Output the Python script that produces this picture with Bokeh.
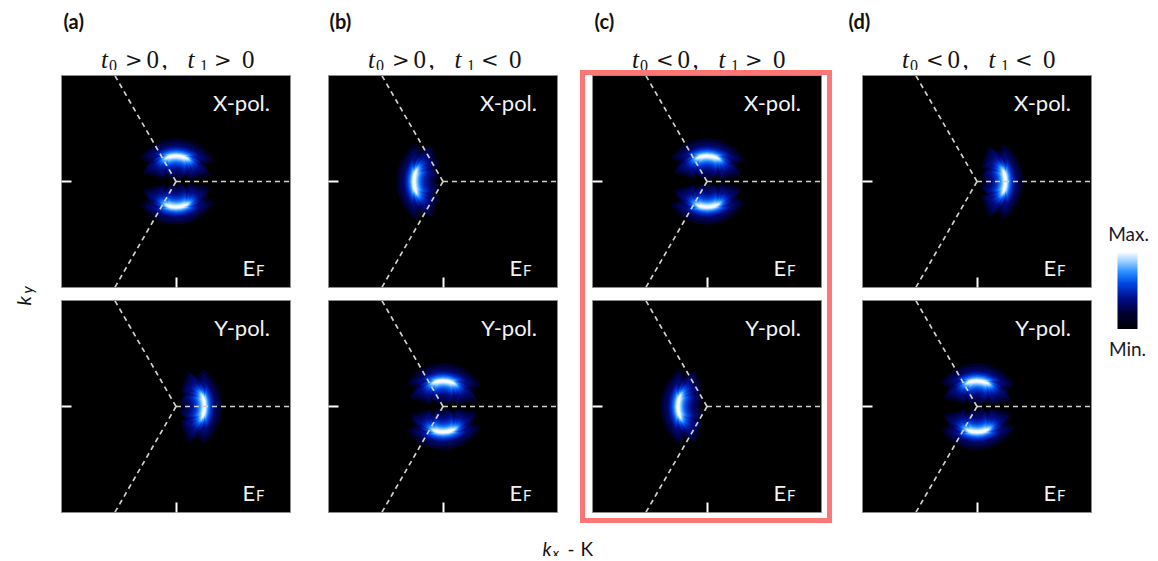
import numpy as np
from bokeh.plotting import figure
from bokeh.layouts import row, column
from bokeh.models import Range1d, FixedTicker, LinearColorMapper
from bokeh.embed import file_html
from bokeh.resources import INLINE
from bokeh.core.properties import value

# ------------------------------------------------------------------ data
panel_letters = ["(a)", "(b)", "(c)", "(d)"]
t0_relation = [">", ">", "<", "<"]
t1_relation = [">", "<", ">", "<"]
x_pol_pattern = ["pair", "left", "pair", "right"]
y_pol_pattern = ["right", "pair", "left", "pair"]
pol_labels = ["X-pol.", "Y-pol."]

# intensity arcs around K: centre angle (deg), half angular span (deg), radius
pair_centers = [88, 272]
pair_half_span = [56, 56]
pair_radius = 0.255
left_centers = [180]
left_half_span = [52]
left_radius = 0.29
right_centers = [0]
right_half_span = [52]
right_radius = 0.285
k_point = (0.0, 0.0)
bz_edge_angles = [0, 120, 240]   # directions of the BZ edges leaving K (deg)
kx_lim = 1.145
ky_lim = 1.06

patterns = {
    "pair": (pair_centers, pair_half_span, pair_radius),
    "left": (left_centers, left_half_span, left_radius),
    "right": (right_centers, right_half_span, right_radius),
}

# colour scale Min. -> Max.
cmap_pos = [0.0, 0.2, 0.4, 0.6, 0.75, 0.88, 1.0]
cmap_hex = ["#000008", "#00002e", "#000c86", "#0048e6", "#2a90ff", "#98ceff", "#f6fbff"]


def make_palette(n):
    pos = np.array(cmap_pos)
    rgb = np.array([[int(h[i:i + 2], 16) for i in (1, 3, 5)] for h in cmap_hex], float)
    out = []
    for t in np.linspace(0, 1, n):
        c = [np.interp(t, pos, rgb[:, j]) for j in range(3)]
        out.append("#%02x%02x%02x" % tuple(int(round(v)) for v in c))
    return out


PALETTE = make_palette(256)


def cmap(level):
    return PALETTE[int(round(min(max(level, 0), 1) * 255))]


# glow styling of the smooth spectral-weight arcs
haze_levels = [0.20, 0.26, 0.32, 0.37]
haze_halfwidth = [0.20, 0.17, 0.145, 0.125]
haze_span_frac = [1.40, 1.28, 1.18, 1.09]
haze_taper = [(1.0, 0.75), (0.55, 1.0)]
n_layers = 18
layer_t = np.linspace(0, 1, n_layers)
layer_level = 0.42 + 0.58 * layer_t ** 1.4
layer_span_frac = 1.0 - 0.55 * layer_t
layer_halfwidth = 0.10 * (1 - layer_t) + 0.013
layer_shift = -0.018 * (1 - layer_t)
taper = [(1.0, 0.7), (0.65, 0.88), (0.35, 1.0)]   # (radial, angular) fractions

# ------------------------------------------------------------------ geometry (page px)
col_x0 = [40, 310, 580, 832]
col_x1 = [310, 580, 832, 1100]
frame_x0 = [61, 328, 592, 862]
letter_x = [63, 329, 594, 848]
FW, FH = 229, 212
SANS = "Lato"
SERIF = "Liberation Serif"
TOTAL_W = 1150


def bare_fig(w, h, xr, yr):
    p = figure(width=w, height=h, x_range=Range1d(*xr), y_range=Range1d(*yr),
               toolbar_location=None, output_backend="svg",
               x_axis_location=None, y_axis_location=None,
               min_border_left=0, min_border_right=0, min_border_top=0, min_border_bottom=0,
               outline_line_color=None)
    p.grid.visible = False
    return p


def wedge_layer(p, centers, spans, radius, level, span_frac, halfwidth):
    n = len(centers)
    start = np.deg2rad([c - s * span_frac for c, s in zip(centers, spans)])
    end = np.deg2rad([c + s * span_frac for c, s in zip(centers, spans)])
    p.annular_wedge(x=[k_point[0]] * n, y=[k_point[1]] * n,
                    inner_radius=max(radius - halfwidth, 0.0), outer_radius=radius + halfwidth,
                    start_angle=start, end_angle=end,
                    fill_color=cmap(level), line_color=None)


def draw_intensity(p, pattern):
    centers, spans, radius = patterns[pattern]
    for lv, hw, sf in zip(haze_levels, haze_halfwidth, haze_span_frac):
        for rf, af in haze_taper:
            wedge_layer(p, centers, spans, radius - 0.025, lv, sf * af, hw * rf)
    for lv, sf, hw, sh in zip(layer_level, layer_span_frac, layer_halfwidth, layer_shift):
        for rf, af in taper:
            wedge_layer(p, centers, spans, radius + sh, lv, sf * af, hw * rf)


def make_panel(i, pattern, pol, top):
    left = frame_x0[i] - col_x0[i]
    right = (col_x1[i] - col_x0[i]) - left - FW
    if top:
        h, bt, bb = 224, 5, 7
    else:
        h, bt, bb = 229, 6, 11
    p = figure(width=col_x1[i] - col_x0[i], height=h,
               x_range=Range1d(-kx_lim, kx_lim), y_range=Range1d(-ky_lim, ky_lim),
               toolbar_location=None, output_backend="svg",
               min_border_left=left, min_border_right=right,
               min_border_top=bt, min_border_bottom=bb,
               background_fill_color="black", outline_line_color="#8c8c8c")
    if i == 2:
        p.border_fill_alpha = 0
    p.grid.visible = False
    for ax in (p.xaxis[0], p.yaxis[0]):
        ax.ticker = FixedTicker(ticks=[0])
        ax.major_tick_in = 10
        ax.major_tick_out = 0
        ax.minor_tick_line_color = None
        ax.major_tick_line_color = "white"
        ax.major_tick_line_width = 2
        ax.axis_line_color = None
        ax.major_label_text_color = None
        ax.major_label_text_font_size = "1px"
        ax.major_label_standoff = 0
    draw_intensity(p, pattern)
    p.ray(x=[k_point[0]] * 3, y=[k_point[1]] * 3, length=3.0,
          angle=np.deg2rad(bz_edge_angles),
          line_color="#d0d0d0", line_width=1.7, line_dash="5 4")
    p.text(x=[0.94], y=[0.79], text=[pol], text_align="right", text_baseline="alphabetic",
           text_font=value(SANS), text_font_size="22px", text_color="#f2f2f2")
    p.text(x=[0.665], y=[-0.86], text=["E"], text_align="left", text_baseline="alphabetic",
           text_font=value(SANS), text_font_size="22px", text_color="#f2f2f2")
    p.text(x=[0.80], y=[-0.885], text=["F"], text_align="left", text_baseline="alphabetic",
           text_font=value(SANS), text_font_size="15px", text_color="#f2f2f2")
    return p


# header strip: page coordinates, y measured downward as -y
header = bare_fig(TOTAL_W, 70, (0, TOTAL_W), (-70, 0))
tc = "#141414"
common = dict(text_color=tc, text_baseline="alphabetic", text_align="left")
for i in range(4):
    cx = frame_x0[i] + FW / 2
    header.text(x=[letter_x[i]], y=[-20], text=[panel_letters[i]], text_font=value(SANS),
                text_font_style="bold", text_font_size="20px", text_color="#111111",
                text_baseline="alphabetic", text_align="left")
    header.text(x=[cx - 75, cx + 11.5], y=[-59, -59], text=["t", "t"], text_font=value(SERIF),
                text_font_style="italic", text_font_size="25px", **common)
    header.text(x=[cx - 67, cx + 24], y=[-65, -65], text=["0", "1"], text_font=value(SERIF),
                text_font_size="16px", **common)
    header.text(x=[cx - 51, cx + 38], y=[-59, -59], text=[t0_relation[i], t1_relation[i]],
                text_font=value("DejaVu Serif"), text_font_size="21px", **common)
    header.text(x=[cx - 29.5, cx + 66], y=[-59, -59], text=["0", "0"], text_font=value(SERIF),
                text_font_size="25px", **common)
    header.text(x=[cx - 14.5], y=[-59], text=[","], text_font=value(SERIF),
                text_font_size="25px", **common)

# panel columns
columns = []
for i in range(4):
    top = make_panel(i, x_pol_pattern[i], pol_labels[0], True)
    bot = make_panel(i, y_pol_pattern[i], pol_labels[1], False)
    if i == 2:
        columns.append(column(top, bot, spacing=0,
                              styles={"box-shadow": "inset 0 0 0 5px #ff7676"}))
    else:
        columns.append(column(top, bot, spacing=0))

# k_y label
ylab = bare_fig(40, 453, (0, 40), (-523, -70))
ylab.text(x=[22], y=[-305], text=["k"], angle=np.pi / 2, text_font=value(SANS),
          text_font_style="italic", text_font_size="20px", text_color="#111111",
          text_baseline="alphabetic", text_align="left")
ylab.text(x=[26], y=[-293], text=["y"], angle=np.pi / 2, text_font=value(SANS),
          text_font_style="italic", text_font_size="15px", text_color="#111111",
          text_baseline="alphabetic", text_align="left")

# colour bar: label strip, bar (occupies 0..1 of its own axes), label strip
mapper = LinearColorMapper(palette=PALETTE, low=0, high=1)
cb_top = bare_fig(50, 182, (1100, 1150), (-252, -70))
cb_top.text(x=[1128], y=[-233], text=["Max."], text_font=value(SANS), text_font_size="19px",
            text_color="#1a1a2a", text_align="center", text_baseline="alphabetic")
cb_bar = bare_fig(50, 77, (-17 / 20, 33 / 20), (0, 1))
cb_bar.image(image=[np.linspace(0, 1, 256).reshape(256, 1)], x=0, y=0, dw=1, dh=1,
             color_mapper=mapper)
cb_bot = bare_fig(50, 194, (1100, 1150), (-523, -329))
cb_bot.text(x=[1127], y=[-348], text=["Min."], text_font=value(SANS), text_font_size="19px",
            text_color="#1a1a2a", text_align="center", text_baseline="alphabetic")
cb = column(cb_top, cb_bar, cb_bot, spacing=0)

main_row = row(ylab, *columns, cb, spacing=0)

# k_x label
footer = bare_fig(TOTAL_W, 33, (0, TOTAL_W), (-556, -523))
footer.text(x=[542], y=[-548], text=["k"], text_font=value(SANS), text_font_style="italic",
            text_font_size="19px", text_color="#111111", text_baseline="alphabetic",
            text_align="left")
footer.text(x=[552], y=[-552], text=["x"], text_font=value(SANS), text_font_style="italic",
            text_font_size="14px", text_color="#111111", text_baseline="alphabetic",
            text_align="left")
footer.text(x=[567, 580], y=[-548, -548], text=["-", "K"], text_font=value(SANS),
            text_font_size="19px", text_color="#111111", text_baseline="alphabetic",
            text_align="left")

layout = column(header, main_row, footer, spacing=0)
open("out.html", "w").write(file_html(layout, INLINE))
